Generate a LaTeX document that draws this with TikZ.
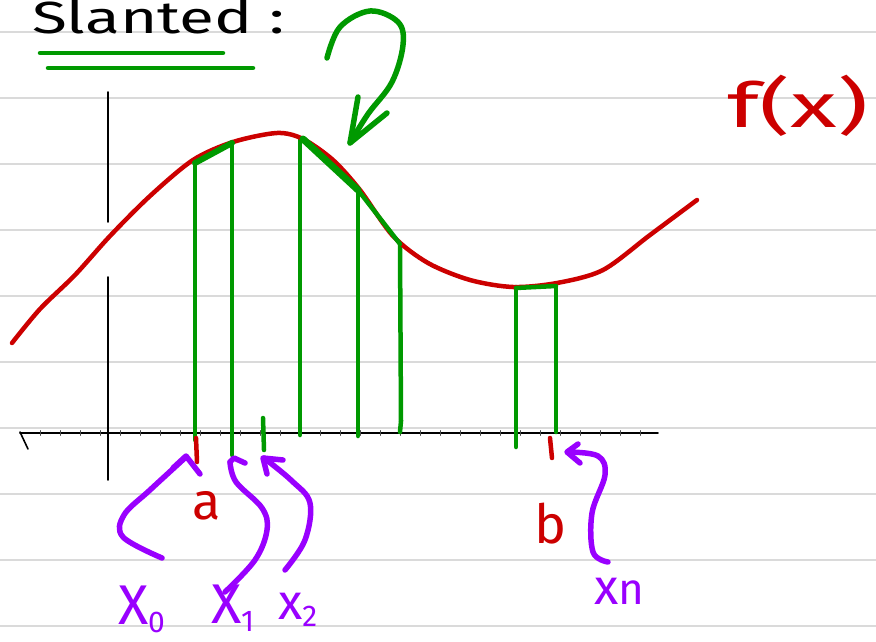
\documentclass[tikz,border=0pt]{standalone}
\usepackage{fontspec}
\setmainfont{Fira Sans}
\definecolor{penred}{HTML}{CC0000}
\definecolor{pengreen}{HTML}{009900}
\definecolor{penpurple}{HTML}{9900FF}
\definecolor{rulegray}{HTML}{DADADA}
\tikzset{
  rule/.style={rulegray, line width=2.5pt},
  axisline/.style={black, line width=1.6pt},
  tickmark/.style={black!70, line width=0.8pt},
  redpen/.style={penred, line width=4.5pt},
  greenpen/.style={pengreen, line width=4.5pt},
  purplepen/.style={penpurple, line width=5.5pt},
  lbl/.style={inner sep=0pt, outer sep=0pt},
}
\newcommand{\subtxt}[1]{\raisebox{-0.15em}{\fontsize{30}{30}\selectfont #1}}
\begin{document}
\begin{tikzpicture}[x=1pt,y=-1pt, line cap=round, line join=round]
\useasboundingbox (0,0) rectangle (876,642);
\fill[white] (0,0) rectangle (876,642);
% ruled paper
\foreach \yy in {32,98,164,230,296,362,428,494,560,626}
  \draw[rule] (0,\yy) -- (876,\yy);
% title
\node[lbl, anchor=base west, font=\fontsize{45}{45}\selectfont] (title) at (32,34) {\scalebox{1.42}[1]{Slanted :}};
\draw[greenpen] (40,53) -- (223,53);
\draw[greenpen] (48,68) -- (253,68);
% axes
\draw[axisline] (20,433) -- (658,433);
\foreach \xx in {40,60,...,650} \draw[tickmark] (\xx,430.5) -- (\xx,435.5);
\draw[axisline] (20,432) -- (28,449);
\draw[axisline] (108,92) -- (108,222);
\draw[axisline] (108,277) -- (108,480);
% green strips
\draw[greenpen] (195,440) -- (195,160);
\draw[greenpen] (232,455) -- (232,142);
\draw[greenpen] (300,435) -- (300,138);
\draw[greenpen] (358,436) -- (358,188);
\draw[greenpen] (401,421) -- (400,245);
\draw[greenpen] (401,421) -- (400,432);
\draw[greenpen] (516,447) -- (516,287);
\draw[greenpen] (556,432) -- (556,285);
\draw[greenpen] (263,418) -- (264,450);
% curve
\draw[redpen] plot[smooth, tension=0.5] coordinates {(12,343) (40,309) (75,275) (110,236) (150,196) (193,160) (233,142) (277,133) (303,139) (333,160) (360,190) (393,236) (428,263) (470,280) (513,287) (557,283) (603,270) (650,235) (697,200)};
% slanted tops
\draw[greenpen, line width=6pt] (195,163) -- (232,143);
\draw[greenpen, line width=7pt] (303,139) -- (358,190);
\draw[greenpen] (358,190) -- (400,244);
\draw[greenpen] (516,288) -- (556,286);
% red marks at a and b
\draw[redpen] (196,438) -- (197,462);
\draw[redpen] (550,438) -- (552,458);
% green pointing arrow
\draw[greenpen, line width=5.5pt] plot[smooth, tension=0.6] coordinates {(327,58) (340,27) (370,11) (398,22) (403,45) (392,82) (368,114) (350,143)};
\draw[greenpen, line width=5.5pt] (358,97) -- (350,143) -- (387,113);
% labels
\node[lbl, text=penred, font=\fontsize{62}{62}\selectfont] (fx) at (798,106) {\scalebox{1.55}[1]{f(x)}};
\node[lbl, text=penred, font=\fontsize{52}{52}\selectfont] (la) at (207,506) {a};
\node[lbl, text=penred, font=\fontsize{54}{54}\selectfont] (lb) at (551,524) {b};
\node[lbl, text=penpurple, font=\fontsize{56}{56}\selectfont, anchor=base west] (x0) at (118,624) {X\subtxt{0}};
\node[lbl, text=penpurple, font=\fontsize{56}{56}\selectfont, anchor=base west] (x1) at (211,623) {X\subtxt{1}};
\node[lbl, text=penpurple, font=\fontsize{50}{50}\selectfont, anchor=base west] (x2) at (278,619) {x\subtxt{2}};
\node[lbl, text=penpurple, font=\fontsize{50}{50}\selectfont, anchor=base west] (xn) at (594,604) {x{\fontsize{44}{44}\selectfont n}};
% purple arrows
\draw[purplepen] plot[smooth, tension=0.6] coordinates {(162,558) (123,537) (124,515) (150,490) (186,457)};
\draw[purplepen] (173,468) -- (186,456) -- (200,474);
\draw[purplepen] plot[smooth, tension=0.6] coordinates {(225,592) (255,560) (267,530) (262,508) (236,482) (230,462)};
\draw[purplepen] (230,462) -- (234,458) -- (245,463);
\draw[purplepen] plot[smooth, tension=0.6] coordinates {(285,570) (305,540) (310,503) (292,481) (264,458)};
\draw[purplepen] (267,474) -- (263,458) -- (283,460);
\draw[purplepen] plot[smooth, tension=0.6] coordinates {(608,562) (593,552) (592,513) (605,475) (598,456) (568,452)};
\draw[purplepen] (578,444) -- (567,452) -- (580,463);
\end{tikzpicture}
\end{document}
